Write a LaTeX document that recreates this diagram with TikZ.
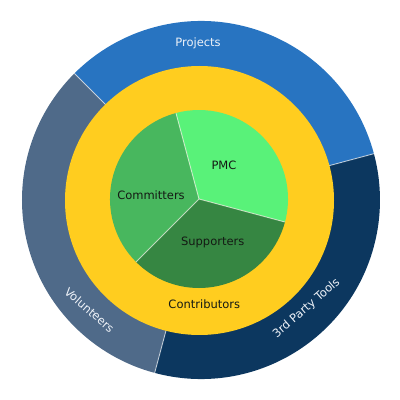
\documentclass[tikz,border=0pt]{standalone}
\usepackage{fontspec}
\setmainfont{DejaVu Sans}
\definecolor{projblue}{HTML}{2874C1}
\definecolor{volgrey}{HTML}{4F6A89}
\definecolor{toolnavy}{HTML}{0C375F}
\definecolor{contyellow}{HTML}{FFCD1F}
\definecolor{pmcgreen}{HTML}{59F279}
\definecolor{comgreen}{HTML}{48B75E}
\definecolor{supgreen}{HTML}{368642}
\definecolor{lighttext}{HTML}{EEF2F8}
\definecolor{darktext}{HTML}{141A14}
\begin{document}
\begin{tikzpicture}[x=1pt,y=1pt,
  sep/.style={draw=white,draw opacity=0.65,line width=0.9pt},
  lbl/.style={font=\fontsize{11.5}{13}\selectfont,inner sep=0pt},
  outerlbl/.style={lbl,text=lighttext},
  innerlbl/.style={lbl,text=darktext}]
\useasboundingbox (0,0) rectangle (400,400);
% outer ring
\begin{scope}[shift={(201,200)}]
  \fill[projblue] (15:179pt) arc[start angle=15,end angle=135,radius=179pt]
    -- (135:128pt) arc[start angle=135,end angle=15,radius=128pt] -- cycle;
  \fill[volgrey] (135:179pt) arc[start angle=135,end angle=255,radius=179pt]
    -- (255:128pt) arc[start angle=255,end angle=135,radius=128pt] -- cycle;
  \fill[toolnavy] (255:179pt) arc[start angle=255,end angle=375,radius=179pt]
    -- (375:128pt) arc[start angle=375,end angle=255,radius=128pt] -- cycle;
  \path[sep] (15:128pt) -- (15:179pt);
  \path[sep] (135:128pt) -- (135:179pt);
  \path[sep] (255:128pt) -- (255:179pt);
\end{scope}
% yellow ring
\fill[contyellow] (199.5,199.5) circle[radius=134.5pt];
% inner pie
\begin{scope}[shift={(199,201)}]
  \fill[pmcgreen] (0,0) -- (345:89pt) arc[start angle=345,end angle=465,radius=89pt] -- cycle;
  \fill[comgreen] (0,0) -- (105:89pt) arc[start angle=105,end angle=225,radius=89pt] -- cycle;
  \fill[supgreen] (0,0) -- (225:89pt) arc[start angle=225,end angle=345,radius=89pt] -- cycle;
  \path[sep] (0,0) -- (105:89pt);
  \path[sep] (0,0) -- (225:89pt);
  \path[sep] (0,0) -- (345:89pt);
\end{scope}
% labels
\node[outerlbl] (projects) at (198,357) {Projects};
\node[outerlbl,rotate=-41] (volunteers) at (89.5,90) {Volunteers};
\node[outerlbl,rotate=41] (tools) at (306.5,91.5) {3rd Party Tools};
\node[innerlbl] (contributors) at (204.3,95.7) {Contributors};
\node[innerlbl] (committers) at (151,204.3) {Committers};
\node[innerlbl] (pmc) at (224,235) {PMC};
\node[innerlbl] (supporters) at (212.7,157.3) {Supporters};
\end{tikzpicture}
\end{document}
